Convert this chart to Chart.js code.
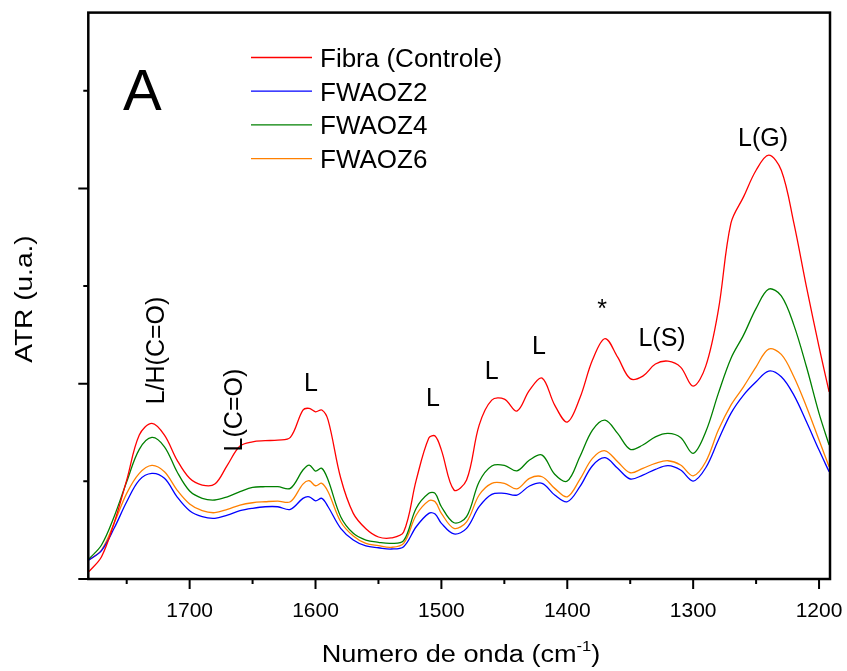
<!DOCTYPE html>
<html>
<head>
<meta charset="utf-8">
<script src="https://cdn.jsdelivr.net/npm/chart.js@4.4.1/dist/chart.umd.min.js"></script>
<style>
  html, body { margin: 0; padding: 0; background: #fff; }
  #wrap { width: 847px; height: 671px; }
</style>
</head>
<body>
<div id="wrap"><canvas id="myChart" width="847" height="671"></canvas></div>
<script>
// numero de onda (cm-1)
const wavenumber = [1780, 1770, 1760, 1750, 1740, 1730, 1720, 1710, 1700, 1690, 1680, 1670, 1660, 1650, 1640, 1630, 1620, 1610, 1605, 1600, 1595, 1590,
  1580, 1570, 1560, 1550, 1540, 1530, 1520, 1510, 1505, 1500, 1490, 1480, 1470, 1460, 1450, 1440, 1430, 1420, 1410, 1400, 1390, 1380, 1370, 1360,
  1350, 1340, 1330, 1320, 1310, 1300, 1290, 1280, 1270, 1260, 1250, 1240, 1230, 1220, 1210, 1200, 1192]

const fibra = [0.075, 0.228, 0.573, 1.013, 1.474, 1.594, 1.474, 1.218, 1.031, 0.962, 0.972, 1.167, 1.361, 1.405, 1.416, 1.423, 1.450, 1.730, 1.747, 1.712, 1.730, 1.627,
  1.034, 0.672, 0.515, 0.430, 0.420, 0.481, 1.013, 1.443, 1.464, 1.320, 0.911, 1.013, 1.576, 1.832, 1.842, 1.720, 1.934, 2.057, 1.781, 1.607, 1.853, 2.242, 2.462, 2.272,
  2.052, 2.078, 2.201, 2.231, 2.170, 1.975, 2.180, 2.753, 3.644, 3.913, 4.186, 4.340, 4.186, 3.644, 2.992, 2.378, 1.917]

const fwaoz2 = [0.194, 0.290, 0.519, 0.791, 1.013, 1.082, 1.031, 0.842, 0.699, 0.638, 0.621, 0.655, 0.699, 0.724, 0.740, 0.740, 0.713, 0.826, 0.842, 0.801, 0.826, 0.740,
  0.519, 0.399, 0.338, 0.320, 0.307, 0.331, 0.535, 0.672, 0.665, 0.570, 0.461, 0.519, 0.740, 0.867, 0.877, 0.860, 0.952, 0.980, 0.860, 0.791, 0.945, 1.160, 1.242, 1.133,
  1.024, 1.064, 1.123, 1.160, 1.116, 1.003, 1.139, 1.423, 1.696, 1.883, 2.019, 2.129, 2.071, 1.883, 1.610, 1.320, 1.098]

const fwaoz4 = [0.205, 0.348, 0.638, 0.996, 1.328, 1.450, 1.354, 1.098, 0.901, 0.826, 0.809, 0.842, 0.894, 0.939, 0.945, 0.945, 0.928, 1.116, 1.167, 1.105, 1.133, 1.013,
  0.638, 0.468, 0.399, 0.376, 0.365, 0.392, 0.724, 0.877, 0.877, 0.740, 0.576, 0.638, 0.996, 1.157, 1.164, 1.108, 1.218, 1.269, 1.072, 1.003, 1.252, 1.525, 1.627, 1.491,
  1.328, 1.372, 1.456, 1.491, 1.450, 1.287, 1.508, 1.901, 2.259, 2.497, 2.771, 2.968, 2.900, 2.600, 2.173, 1.696, 1.372]

const fwaoz6 = [0.194, 0.297, 0.570, 0.877, 1.082, 1.164, 1.098, 0.911, 0.768, 0.699, 0.679, 0.713, 0.757, 0.781, 0.791, 0.798, 0.791, 0.972, 1.006, 0.955, 0.980, 0.894,
  0.586, 0.440, 0.365, 0.341, 0.324, 0.365, 0.655, 0.801, 0.791, 0.672, 0.519, 0.586, 0.860, 0.980, 0.980, 0.924, 1.031, 1.047, 0.928, 0.842, 1.020, 1.235, 1.313, 1.201,
  1.088, 1.133, 1.184, 1.211, 1.167, 1.057, 1.201, 1.525, 1.781, 1.968, 2.173, 2.354, 2.300, 2.071, 1.764, 1.423, 1.149]

const seriesNames = ['Fibra (Controle)', 'FWAOZ2', 'FWAOZ4', 'FWAOZ6']
const seriesColors = ['#ff0000', '#0000ff', '#008000', '#ff8000']

const xTickLabels = [1700, 1600, 1500, 1400, 1300, 1200]
const xMinorTicks = [1750, 1650, 1550, 1450, 1350, 1250]
const yMajorTicks = [0, 2, 4]
const yMinorTicks = [1, 3, 5]

// rotulos das bandas: [texto, numero de onda, valor, girado]
const bandLabels = [
  ['L/H(C=O)', 1726, 2.34, true],
  ['L(C=O)', 1664, 1.73, true],
  ['L', 1603.6, 2.02, false],
  ['L', 1506.7, 1.86, false],
  ['L', 1460, 2.14, false],
  ['L', 1422.5, 2.40, false],
  ['*', 1372.4, 2.82, false],
  ['L(S)', 1324.7, 2.46, false],
  ['L(G)', 1244.5, 4.51, false]
]

const FONT = '"Liberation Sans", Arial, sans-serif'
const series = [fibra, fwaoz2, fwaoz4, fwaoz6]

const toPoints = (ys) => wavenumber.map((x, i) => ({ x: x, y: ys[i] }))

// desenha texto centrado pela caixa do glifo
const drawCentered = (ctx, text, x, y, rotated) => {
  ctx.save()
  ctx.translate(x, y)
  if (rotated) ctx.rotate(-Math.PI / 2)
  const m = ctx.measureText(text)
  ctx.textAlign = 'center'
  ctx.textBaseline = 'alphabetic'
  ctx.fillText(text, 0, (m.actualBoundingBoxAscent - m.actualBoundingBoxDescent) / 2)
  ctx.restore()
}

const framePlugin = {
  id: 'framePlugin',
  afterDraw(chart) {
    const ctx = chart.ctx
    const area = chart.chartArea
    const xs = chart.scales.x
    const ys = chart.scales.y
    ctx.save()
    ctx.strokeStyle = '#000'
    ctx.fillStyle = '#000'
    ctx.lineWidth = 2.5
    ctx.strokeRect(area.left, area.top, area.right - area.left, area.bottom - area.top)

    // ticks eixo x
    ctx.lineWidth = 2
    ctx.beginPath()
    xTickLabels.concat(xMinorTicks).forEach((v) => {
      const px = xs.getPixelForValue(v)
      const len = xTickLabels.includes(v) ? 10 : 5
      ctx.moveTo(px, area.bottom)
      ctx.lineTo(px, area.bottom + len)
    })
    // ticks eixo y
    yMajorTicks.concat(yMinorTicks).forEach((v) => {
      const py = ys.getPixelForValue(v)
      const len = yMajorTicks.includes(v) ? 10 : 5
      ctx.moveTo(area.left, py)
      ctx.lineTo(area.left - len, py)
    })
    ctx.stroke()

    ctx.font = '21px ' + FONT
    xTickLabels.forEach((v) => {
      drawCentered(ctx, String(v), xs.getPixelForValue(v), area.bottom + 31, false)
    })

    // titulo eixo x com expoente
    ctx.save()
    ctx.translate(461, 662)
    ctx.scale(1.18, 1)
    const big = '23px ' + FONT
    const small = '14px ' + FONT
    ctx.font = big
    const w1 = ctx.measureText('Numero de onda (cm').width
    const w3 = ctx.measureText(')').width
    ctx.font = small
    const w2 = ctx.measureText('-1').width
    let x0 = -(w1 + w2 + w3) / 2
    ctx.textAlign = 'left'
    ctx.textBaseline = 'alphabetic'
    ctx.font = big
    ctx.fillText('Numero de onda (cm', x0, 0)
    ctx.font = small
    ctx.fillText('-1', x0 + w1, -11)
    ctx.font = big
    ctx.fillText(')', x0 + w1 + w2, 0)
    ctx.restore()

    // titulo eixo y
    ctx.save()
    ctx.translate(32, 299)
    ctx.rotate(-Math.PI / 2)
    ctx.scale(1.22, 1)
    ctx.font = '23px ' + FONT
    ctx.textAlign = 'center'
    ctx.textBaseline = 'alphabetic'
    ctx.fillText('ATR (u.a.)', 0, 0)
    ctx.restore()

    // letra do painel
    ctx.font = '58px ' + FONT
    ctx.textAlign = 'left'
    ctx.textBaseline = 'alphabetic'
    ctx.fillText('A', 123, 110)

    // rotulos das bandas
    ctx.font = '25px ' + FONT
    bandLabels.forEach(([text, wn, val, rot]) => {
      drawCentered(ctx, text, xs.getPixelForValue(wn), ys.getPixelForValue(val), rot)
    })

    // legenda
    ctx.font = '26px ' + FONT
    chart.data.datasets.forEach((ds, i) => {
      const y = 57.5 + i * 33.7
      ctx.strokeStyle = ds.borderColor
      ctx.lineWidth = 1.3
      ctx.beginPath()
      ctx.moveTo(251, y)
      ctx.lineTo(312, y)
      ctx.stroke()
      ctx.fillStyle = '#000'
      ctx.textAlign = 'left'
      const m = ctx.measureText(ds.label)
      ctx.fillText(ds.label, 320, y + 9.5)
    })
    ctx.restore()
  }
}

const ctx = document.querySelector('#myChart')

window.chart = new Chart(ctx, {
  type: 'line',
  data: {
    datasets: series.map((s, i) => ({
      label: seriesNames[i],
      data: toPoints(s),
      borderColor: seriesColors[i],
      borderWidth: 1.3,
      pointRadius: 0,
      tension: 0.35,
      fill: false
    }))
  },
  options: {
    responsive: false,
    animation: false,
    layout: { padding: { top: 12.6, right: 17, left: 0, bottom: 0 } },
    plugins: {
      legend: { display: false },
      tooltip: { enabled: false }
    },
    scales: {
      x: {
        type: 'linear',
        reverse: true,
        min: 1191.3,
        max: 1780.5,
        grid: { display: false, drawTicks: false },
        border: { display: false },
        ticks: { display: false },
        afterFit: (scale) => { scale.height = 92 }
      },
      y: {
        min: 0,
        max: 5.8,
        grid: { display: false, drawTicks: false },
        border: { display: false },
        ticks: { display: false },
        afterFit: (scale) => { scale.width = 88.3 }
      }
    }
  },
  plugins: [framePlugin]
})
</script>
</body>
</html>
